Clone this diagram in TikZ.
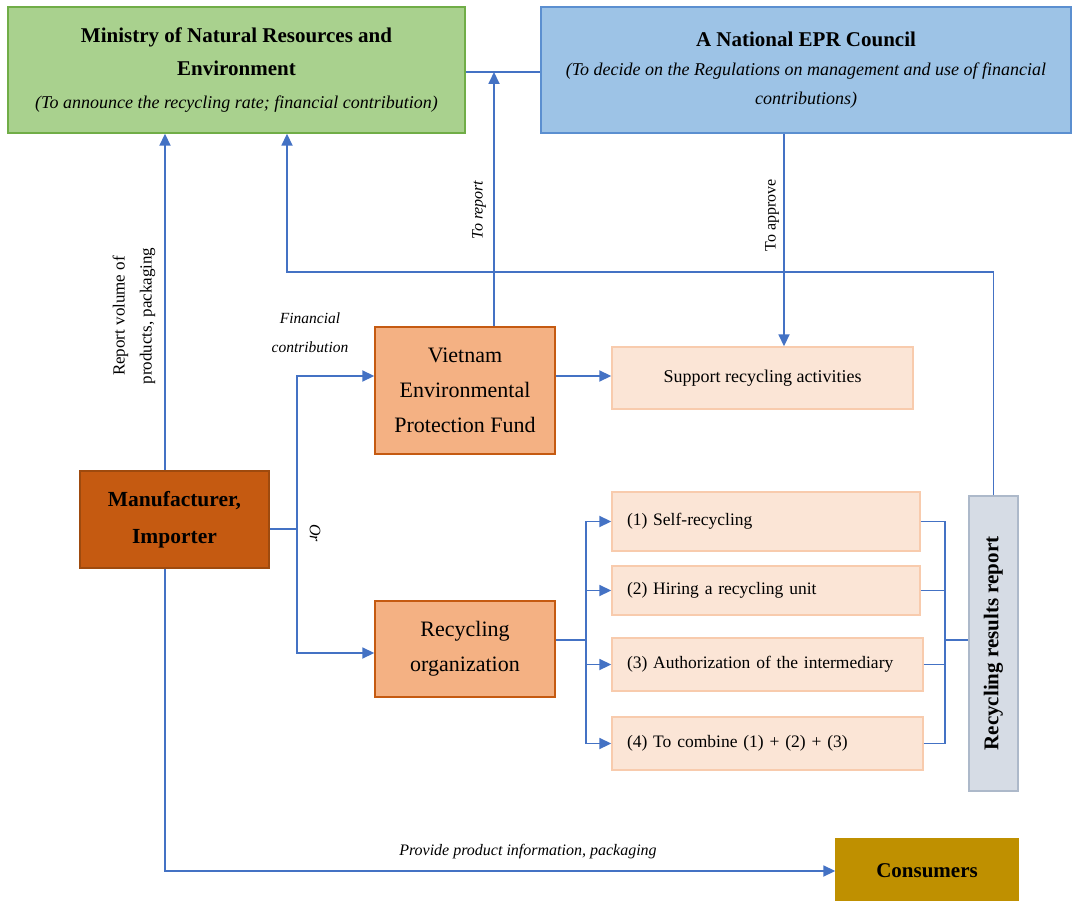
\documentclass[tikz,border=0pt]{standalone}
\usepackage{fontspec}
\setmainfont{Liberation Serif}
\usetikzlibrary{arrows.meta}
\definecolor{cblue}{HTML}{4472C4}
\definecolor{mingreen}{HTML}{A9D18E}
\definecolor{minborder}{HTML}{70AD47}
\definecolor{eprblue}{HTML}{9DC3E6}
\definecolor{eprborder}{HTML}{5B8FD0}
\definecolor{vepffill}{HTML}{F4B183}
\definecolor{vepfborder}{HTML}{C55A11}
\definecolor{supfill}{HTML}{FBE5D6}
\definecolor{supborder}{HTML}{F8CBAD}
\definecolor{manufill}{HTML}{C55A11}
\definecolor{manuborder}{HTML}{9E4A0E}
\definecolor{repfill}{HTML}{D6DCE5}
\definecolor{repborder}{HTML}{ADB9CA}
\definecolor{consfill}{HTML}{BF9000}
\begin{document}
\begin{tikzpicture}[x=1pt,y=-1pt,
  box/.style={draw, line width=1.4pt, inner sep=0pt, align=center},
  orgbox/.style={box, fill=vepffill, draw=vepfborder, minimum width=180pt,
     font=\fontsize{22}{35}\selectfont},
  optbox/.style={box, fill=supfill, draw=supborder, align=left, inner xsep=15pt,
     font=\fontsize{17.5}{21}\selectfont},
  conn/.style={draw=cblue, line width=1.8pt},
  arr/.style={conn, -{Triangle[length=12pt,width=11pt]}},
  lbl/.style={inner sep=0pt, align=center, font=\fontsize{16}{28}\selectfont}
]
\useasboundingbox (0,0) rectangle (1073,901);

% top boxes
\node[box, fill=mingreen, draw=minborder, minimum width=457pt, minimum height=126pt,
      font=\fontsize{18}{33}\selectfont] (min) at (236.5,70)
  {{\fontsize{21}{34}\selectfont\bfseries Ministry of Natural Resources and}\\
   {\fontsize{21}{34}\selectfont\bfseries Environment}\\
   \textit{(To announce the recycling rate; financial contribution)}};
\node[box, fill=eprblue, draw=eprborder, minimum width=530pt, minimum height=126pt,
      font=\fontsize{18}{29}\selectfont] (epr) at (806,70)
  {{\fontsize{21}{35}\selectfont\bfseries A National EPR Council}\\
   \textit{(To decide on the Regulations on management and use of financial}\\
   \textit{contributions)}};

% middle boxes
\node[orgbox, minimum height=127pt] (vepf) at (465,390.5)
  {Vietnam\\ Environmental\\ Protection Fund};
\node[orgbox, minimum height=96pt] (recorg) at (465,649)
  {Recycling\\ organization};
\node[box, fill=supfill, draw=supborder, minimum width=301pt, minimum height=62pt,
      font=\fontsize{18}{21}\selectfont] (support) at (762.5,378)
  {Support recycling activities};
\node[box, fill=manufill, draw=manuborder, minimum width=189pt, minimum height=97pt,
      font=\fontsize{21.5}{37}\selectfont\bfseries] (manu) at (174.5,519.5)
  {Manufacturer,\\ Importer};

% options
\node[optbox, text width=278pt, minimum height=59pt] (o1) at (766,521.5) {(1) Self-recycling};
\node[optbox, text width=278pt, minimum height=49pt] (o2) at (766,590.5) {(2) Hiring a recycling unit};
\node[optbox, text width=281pt, minimum height=53pt] (o3) at (767.5,664.5) {(3) Authorization of the intermediary};
\node[optbox, text width=281pt, minimum height=53pt] (o4) at (767.5,743.5) {(4) To combine (1) + (2) + (3)};

% report and consumers
\node[box, fill=repfill, draw=repborder, minimum width=295pt, minimum height=49pt,
      rotate=90, font=\fontsize{21}{24}\selectfont\bfseries] (report) at (993.5,643.5)
  {Recycling results report};
\node[box, fill=consfill, draw=consfill, minimum width=182pt, minimum height=64pt,
      font=\fontsize{21}{24}\selectfont\bfseries] (cons) at (927,871)
  {Consumers};

% helper coordinates
\coordinate (rep) at (494,72);
\coordinate (xm) at (165,0);
\coordinate (k1) at (287,272);
\coordinate (xa) at (784,0);
\coordinate (sp) at (297,529);
\coordinate (fy) at (0,376);
\coordinate (ry) at (0,653);
\coordinate (bx) at (586,640);
\coordinate (cx) at (945,640);

% connectors
\draw[conn] (min.east |- rep) -- (epr.west |- rep);
\draw[arr] (vepf.north -| rep) -- (rep);
\draw[arr] (manu.north -| xm) -- (min.south -| xm);
\draw[arr] (report.east) |- (k1) -- (k1 |- min.south);
\draw[arr] (epr.south -| xa) -- (support.north -| xa);
\draw[conn] (manu.east |- sp) -- (sp);
\draw[arr] (sp) |- (vepf.west |- fy);
\draw[arr] (sp) |- (recorg.west |- ry);
\draw[arr] (vepf.east |- fy) -- (support.west |- fy);
\draw[conn] (recorg.east |- bx) -- (bx);
\draw[arr] (bx) |- (o1.west);
\draw[arr] (bx) |- (o2.west);
\draw[arr] (bx) |- (o3.west);
\draw[arr] (bx) |- (o4.west);
\draw[conn] (o1.east) -| (cx);
\draw[conn] (o2.east) -| (cx);
\draw[conn] (o3.east) -| (cx);
\draw[conn] (o4.east) -| (cx);
\draw[conn] (cx) -- (report.north |- cx);
\draw[arr] (manu.south -| xm) |- (cons.west);

% labels
\node[lbl, rotate=90, font=\fontsize{17}{27}\selectfont] (lrep) at (134,316)
  {Report volume of\\ products, packaging};
\node[lbl, rotate=90, font=\fontsize{16}{20}\selectfont\itshape] (ltorep) at (479,210) {To report};
\node[lbl, rotate=90, font=\fontsize{16}{20}\selectfont] (lappr) at (772,215) {To approve};
\node[lbl, font=\fontsize{15.5}{29}\selectfont\itshape] (lfin) at (310,333) {Financial\\ contribution};
\node[lbl, rotate=-90, font=\fontsize{16}{20}\selectfont\itshape] (lor) at (315,533) {Or};
\node[lbl, font=\fontsize{16}{20}\selectfont\itshape] (lprov) at (528,852) {Provide product information, packaging};
\end{tikzpicture}
\end{document}
